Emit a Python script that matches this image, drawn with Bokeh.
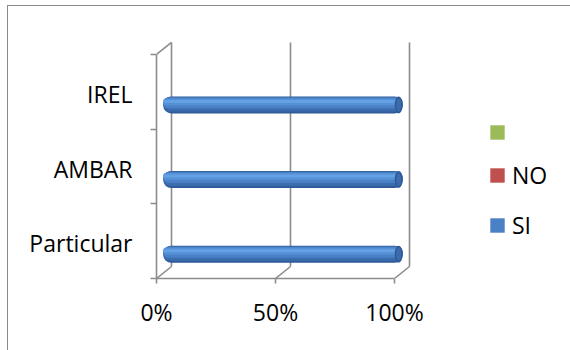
from bokeh.plotting import figure
from bokeh.models import FixedTicker, Range1d, Legend, LegendItem
from bokeh.embed import file_html
from bokeh.resources import INLINE

# --- data -------------------------------------------------------------
categories = ["Particular", "AMBAR", "IREL"]
si = [100, 100, 100]
no = [0, 0, 0]
blank = [0, 0, 0]
x_ticks = [0, 50, 100]
x_tick_labels = ["0%", "50%", "100%"]

FONT = "Open Sans"
FONT_SIZE = "23px"
GRID = "#8c8c8c"

# --- geometry of the pseudo-3D box (data units) -------------------------
PX_X = 2.38           # screen px per percent
PX_Y = 74.67          # screen px per category slot
depth_x = 15 / PX_X   # back wall is shifted right ...
depth_y = 12 / PX_Y   # ... and up
n = len(categories)

W, H = 563, 345
LEFT, TOP, BOTTOM = 148, 29, 73
p = figure(width=W, height=H, output_backend="svg", toolbar_location=None,
           x_range=Range1d(0, (W - LEFT) / PX_X),
           y_range=Range1d(0, (H - TOP - BOTTOM) / PX_Y),
           min_border_left=LEFT, min_border_right=0,
           min_border_top=TOP, min_border_bottom=BOTTOM)
p.margin = (5, 0, 0, 7)
p.styles = {"border-left": "1px solid #8a8a8a", "border-top": "1px solid #8a8a8a"}
p.outline_line_color = None
p.grid.visible = False
p.background_fill_color = "white"
p.border_fill_color = "white"

# back wall gridlines and the floor/side edges joining them to the front
bx = [v + depth_x for v in x_ticks]
p.segment(x0=bx, y0=[depth_y] * 3, x1=bx, y1=[n + depth_y] * 3,
          line_color=GRID, line_width=1.6)
p.segment(x0=x_ticks, y0=[0] * 3, x1=bx, y1=[depth_y] * 3,
          line_color=GRID, line_width=1.6)
p.segment(x0=[0], y0=[n], x1=[depth_x], y1=[n + depth_y],
          line_color=GRID, line_width=1.6)

# --- cylinders ---------------------------------------------------------
ypos = [i + 0.325 for i in range(n)]
bar_shift = 0.45 * depth_x
left = [bar_shift] * n
right = [v + bar_shift + 0.6 for v in si]

def band(top_px, bot_px, color, inset_r=0.0):
    yc = [y - ((top_px + bot_px) / 2) / PX_Y for y in ypos]
    h = bot_px - top_px
    return p.hbar(y=yc, height=h / PX_Y, left=left,
                  right=[r - inset_r for r in right],
                  fill_color=color, line_color=None, border_radius=int(h // 2))

band(-8.5, 8.5, "#2F5B98")
band(-8, 6.5, "#3A6CAE")
mid = band(-7.5, 3.5, "#4A80C5")
band(-6.5, 0.5, "#5590D6", 1.5)
band(-5, -2, "#63A0E4", 2.0)

# darker elliptical end face of each cylinder
cap_x = [r - 4 / PX_X for r in right]
p.ellipse(x=cap_x, y=ypos, width=8, height=17,
          width_units="screen", height_units="screen",
          fill_color="#2F5B98", line_color=None)
p.ellipse(x=cap_x, y=ypos, width=5, height=13,
          width_units="screen", height_units="screen",
          fill_color="#3B6BAC", line_color=None)

# remaining series (zero values), stacked after SI
r_no = p.hbar(y=ypos, height=17 / PX_Y, left=right,
              right=[r + v for r, v in zip(right, no)],
              fill_color="#C0504D", line_color=None)
r_blank = p.hbar(y=ypos, height=17 / PX_Y, left=right,
                 right=[r + v for r, v in zip(right, blank)],
                 fill_color="#9BBB59", line_color=None)

# --- axes --------------------------------------------------------------
xa = p.xaxis[0]
xa.ticker = FixedTicker(ticks=x_ticks)
xa.major_label_overrides = dict(zip(x_ticks, x_tick_labels))
xa.bounds = (0, 100)
xa.axis_line_color = GRID
xa.axis_line_width = 1.6
xa.major_tick_line_color = GRID
xa.major_tick_line_width = 1.6
xa.major_tick_out = 5
xa.major_tick_in = 0
xa.minor_tick_line_color = None
xa.major_label_standoff = 12
xa.major_label_text_font = FONT
xa.major_label_text_font_size = FONT_SIZE
xa.major_label_text_color = "black"

label_pos = [i + 0.47 for i in range(n)]
ya = p.yaxis[0]
ya.ticker = FixedTicker(ticks=label_pos, minor_ticks=list(range(n + 1)))
ya.major_label_overrides = dict(zip(label_pos, categories))
ya.bounds = (0, n)
ya.axis_line_color = GRID
ya.axis_line_width = 1.6
ya.major_tick_line_color = None
ya.major_tick_out = 0
ya.major_tick_in = 0
ya.minor_tick_line_color = GRID
ya.minor_tick_line_width = 1.6
ya.minor_tick_out = 6
ya.minor_tick_in = 0
ya.major_label_standoff = 18
ya.major_label_text_font = FONT
ya.major_label_text_font_size = FONT_SIZE
ya.major_label_text_color = "black"

# --- legend ------------------------------------------------------------
legend = Legend(items=[LegendItem(label=" ", renderers=[r_blank]),
                       LegendItem(label="NO", renderers=[r_no]),
                       LegendItem(label="SI", renderers=[mid])],
                location=(332, 37), orientation="vertical",
                glyph_width=18, glyph_height=18, label_standoff=6,
                label_text_font=FONT, label_text_font_size=FONT_SIZE,
                label_text_color="black", spacing=18, padding=0, margin=0,
                border_line_color=None, background_fill_alpha=0)
p.add_layout(legend, "center")

open("out.html", "w").write(file_html(p, INLINE))
